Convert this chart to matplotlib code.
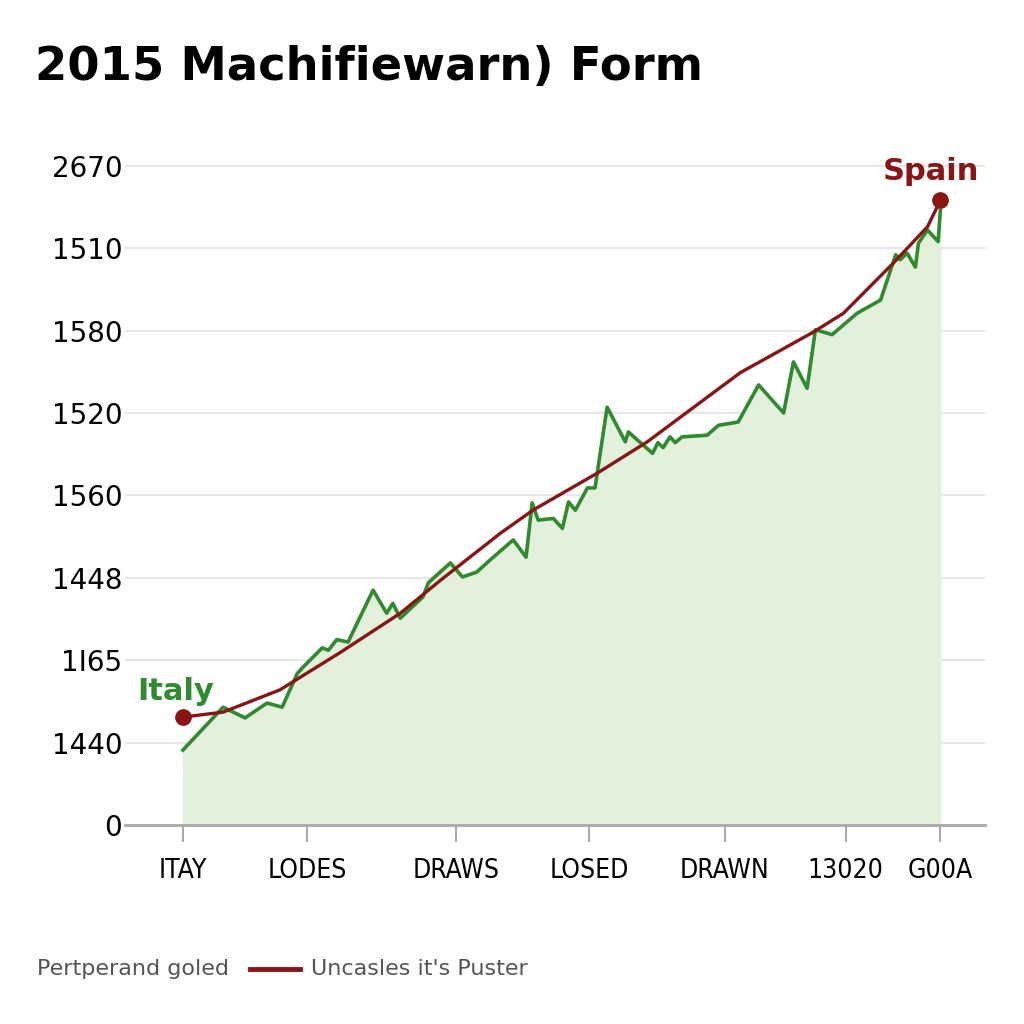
import matplotlib.pyplot as plt

# y axis uses evenly spaced slots with the printed labels
y_labels = ['0', '1440', '1I65', '1448', '1560', '1520', '1580', '1510', '2670']
x_ticks = [0, 16.4, 36.1, 53.6, 71.5, 87.5, 100]
x_labels = ['ITAY', 'LODES', 'DRAWS', 'LOSED', 'DRAWN', '13020', 'G00A']

# green series (Italy -> Spain form)
green_x = [0.0, 5.3, 8.2, 11.1, 13.1, 15.1, 15.9, 18.4, 19.2, 20.3, 21.8, 25.1, 26.9,
           27.7, 28.7, 31.7, 32.4, 35.3, 36.9, 38.8, 40.6, 43.6, 45.3, 46.1, 46.9,
           48.9, 50.1, 50.9, 51.8, 53.4, 54.4, 56.0, 58.4, 58.8, 62.0, 62.7, 63.4,
           64.3, 65.0, 65.9, 69.2, 70.7, 73.3, 76.0, 79.3, 80.6, 82.4, 83.5, 85.7,
           89.0, 92.1, 94.1, 94.7, 95.6, 96.7, 97.1, 98.3, 99.7, 100.0]
green_y = [0.91, 1.43, 1.30, 1.48, 1.43, 1.84, 1.92, 2.15, 2.12, 2.25, 2.22, 2.85, 2.57,
           2.69, 2.51, 2.77, 2.94, 3.18, 3.01, 3.07, 3.22, 3.46, 3.25, 3.91, 3.70,
           3.72, 3.60, 3.92, 3.82, 4.09, 4.09, 5.07, 4.65, 4.77, 4.51, 4.64, 4.58,
           4.71, 4.64, 4.71, 4.73, 4.85, 4.89, 5.34, 5.00, 5.62, 5.30, 6.01, 5.95,
           6.21, 6.37, 6.92, 6.86, 6.94, 6.77, 7.06, 7.22, 7.08, 7.46]

# red trend series
red_x = [0, 5.3, 12.8, 20.7, 28.7, 34.0, 41.9, 46.2, 54.7, 61.3, 73.6, 83.2, 87.2, 93.8, 98.3, 100]
red_y = [1.31, 1.37, 1.64, 2.09, 2.57, 2.97, 3.54, 3.82, 4.27, 4.65, 5.49, 5.98, 6.21, 6.82, 7.26, 7.58]

green = '#2e8b2e'
red = '#8b1414'

fig = plt.figure(figsize=(10.24, 10.24), dpi=100)
ax = fig.add_axes([0.122, 0.1943, 0.84, 0.668])

ax.fill_between(green_x, green_y, 0, color='#e3f0dc', zorder=1)
ax.plot(green_x, green_y, color=green, lw=2.6, zorder=3)
ax.plot(red_x, red_y, color=red, lw=2.4, zorder=4, solid_capstyle='round')
ax.plot([red_x[0], red_x[-1]], [red_y[0], red_y[-1]], 'o', color=red, ms=11, zorder=5)

ax.text(-6, 1.45, 'Italy', color=green, fontsize=22, fontweight='bold', ha='left', va='bottom')
ax.text(98.7, 7.75, 'Spain', color=red, fontsize=22, fontweight='bold', ha='center', va='bottom')

ax.set_xlim(-7.66, 105.9)
ax.set_ylim(0, 8.3)
ax.set_yticks(range(len(y_labels)))
ax.set_yticklabels(y_labels, fontsize=20)
ax.set_xticks(x_ticks)
ax.set_xticklabels(x_labels, fontsize=19, family='DejaVu Sans', fontstretch='condensed')
ax.tick_params(axis='y', length=0, pad=2)
ax.tick_params(axis='x', length=12, width=1.2, color='#999999', pad=12)
ax.grid(axis='y', color='#e3e3e3', lw=1.2)
ax.set_axisbelow(True)
for s in ['top', 'right', 'left']:
    ax.spines[s].set_visible(False)
ax.spines['bottom'].set_color('#aaaaaa')
ax.spines['bottom'].set_linewidth(2)

fig.text(0.034, 0.934, '2015 Machifiewarn) Form', fontsize=33.5, fontweight='bold',
         ha='left', va='center')

# bottom legend
fig.text(0.036, 0.054, 'Pertperand goled', fontsize=16, color='#555555', va='center')
fig.add_artist(plt.Line2D([0.244, 0.293], [0.054, 0.054], color=red, lw=3.5))
fig.text(0.304, 0.054, "Uncasles it's Puster", fontsize=16, color='#555555', va='center')

fig.savefig('out.png', dpi=100, facecolor='white')
